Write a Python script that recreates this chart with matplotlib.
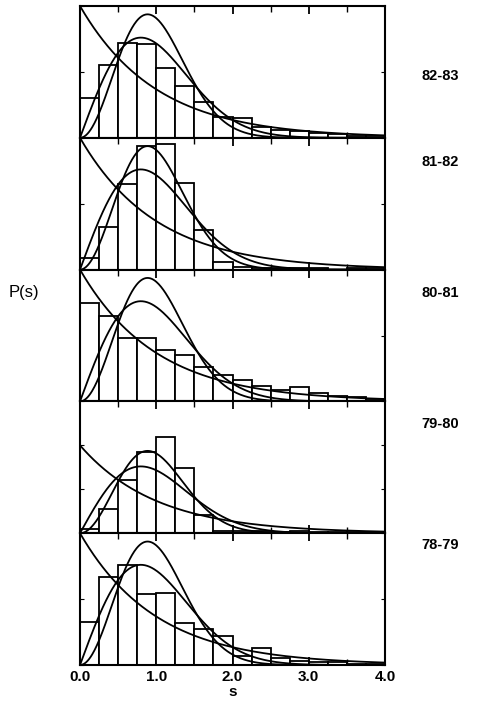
import numpy as np
import matplotlib
matplotlib.use("Agg")
import matplotlib.pyplot as plt
from matplotlib.ticker import MultipleLocator

# histogram bin edges (s) and heights P(s), top panel first
bin_edges = np.arange(0.0, 4.0001, 0.25)
periods = ["82-83", "81-82", "80-81", "79-80", "78-79"]
p_8283 = [0.30, 0.55, 0.72, 0.71, 0.53, 0.39, 0.27, 0.16, 0.15, 0.08, 0.06, 0.05, 0.04, 0.03, 0.01, 0.01]
p_8182 = [0.09, 0.32, 0.65, 0.94, 0.95, 0.66, 0.30, 0.06, 0.02, 0.01, 0.01, 0.01, 0.01, 0.00, 0.01, 0.01]
p_8081 = [0.75, 0.65, 0.48, 0.48, 0.39, 0.35, 0.26, 0.20, 0.16, 0.12, 0.09, 0.11, 0.06, 0.04, 0.03, 0.01]
p_7980 = [0.05, 0.28, 0.60, 0.92, 1.09, 0.74, 0.21, 0.03, 0.02, 0.02, 0.01, 0.02, 0.01, 0.01, 0.01, 0.00]
p_7879 = [0.33, 0.67, 0.76, 0.54, 0.55, 0.32, 0.27, 0.22, 0.07, 0.13, 0.05, 0.03, 0.025, 0.02, 0.01, 0.01]
hists = [p_8283, p_8182, p_8081, p_7980, p_7879]
ymax = [1.0, 1.0, 1.0, 1.5, 1.0]

x_ticks = [0.0, 1.0, 2.0, 3.0, 4.0]
x_ticklabels = ["0.0", "1.0", "2.0", "3.0", "4.0"]


# reference curves: Poisson, GOE (Wigner) and GUE spacing distributions
def poisson(s):
    return np.exp(-s)


def goe(s):
    return np.pi / 2 * s * np.exp(-np.pi * s ** 2 / 4)


def gue(s):
    return 32 / np.pi ** 2 * s ** 2 * np.exp(-4 * s ** 2 / np.pi)


W, H = 483, 710
fig = plt.figure(figsize=(W / 100, H / 100), dpi=100)
plt.rcParams['font.family'] = ['Liberation Sans', 'DejaVu Sans']

left, right = 80 / W, 385 / W
top_px, bot_px = 6, 665
ph = (bot_px - top_px) / len(periods)
# the period labels sit in the upper half of panels 2-5
label_y_px = [76, 162, 293, 424, 545]

s = np.linspace(0, 4, 400)
for i, (label, vals) in enumerate(zip(periods, hists)):
    y_top = top_px + i * ph
    ax = fig.add_axes([left, 1 - (y_top + ph) / H, right - left, ph / H])
    ax.bar(bin_edges[:-1], vals, width=0.25, align="edge",
           facecolor="white", edgecolor="black", linewidth=1.3, zorder=2)
    for f in (poisson, goe, gue):
        ax.plot(s, f(s), color="black", linewidth=1.3, zorder=3)
    ax.set_xlim(0, 4)
    ax.set_ylim(0, ymax[i])
    for sp in ax.spines.values():
        sp.set_linewidth(1.5)
    ax.xaxis.set_major_locator(MultipleLocator(1.0))
    ax.xaxis.set_minor_locator(MultipleLocator(0.5))
    ax.yaxis.set_major_locator(MultipleLocator(0.5))
    ax.tick_params(axis="x", which="major", direction="in", top=True, bottom=True,
                   length=6, width=1.3)
    ax.tick_params(axis="x", which="minor", direction="in", top=True, bottom=True,
                   length=4, width=1.0)
    ax.tick_params(axis="y", direction="in", left=True, right=True, length=3,
                   width=0.8, labelleft=False)
    if i == len(periods) - 1:
        ax.set_xticks(x_ticks)
        ax.set_xticklabels(x_ticklabels, fontsize=11, fontweight="bold")
        ax.set_xlabel("s", fontsize=11, fontweight="bold", labelpad=1)
    else:
        ax.tick_params(axis="x", labelbottom=False)
    fig.text(440 / W, 1 - label_y_px[i] / H, label, ha="center", va="center",
             fontsize=10.5, fontweight="bold")

fig.text(24 / W, 1 - 293 / H, "P(s)", ha="center", va="center", fontsize=12)

fig.savefig("out.png", dpi=100, facecolor="white")
